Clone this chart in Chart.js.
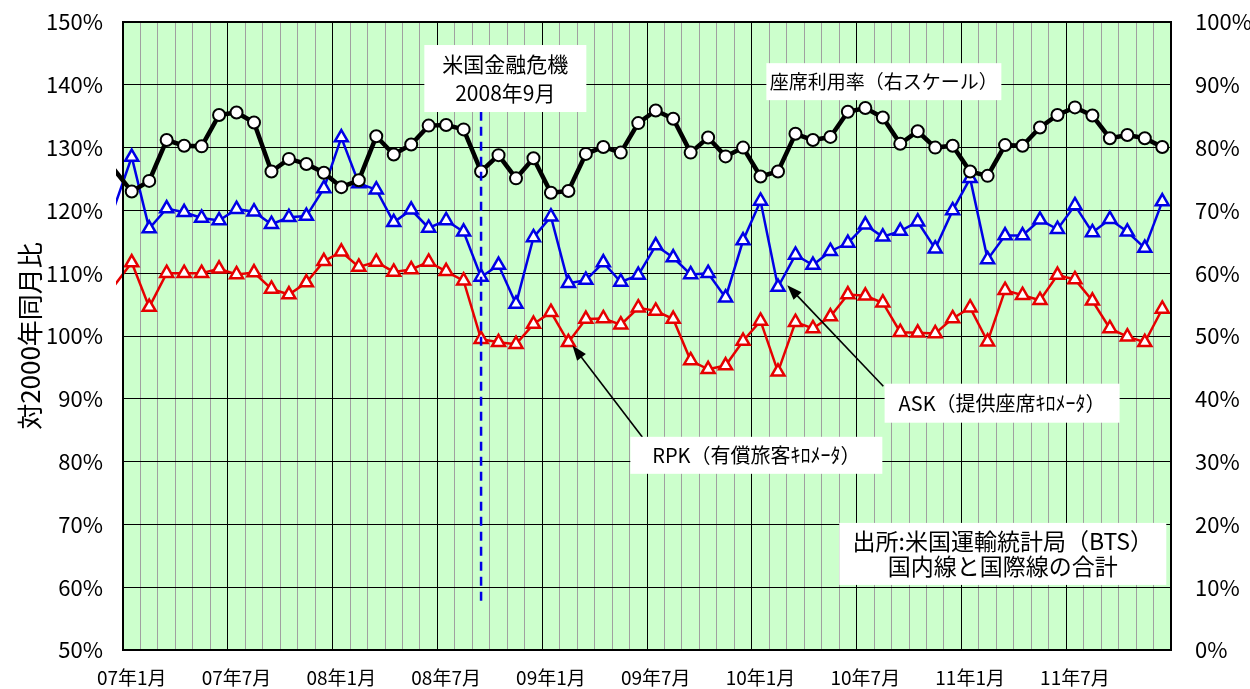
<!DOCTYPE html>
<html lang="ja">
<head>
<meta charset="utf-8">
<title>米国航空 ASK・RPK・座席利用率</title>
<script src="https://cdn.jsdelivr.net/npm/chart.js@4.4.1/dist/chart.umd.min.js"></script>
<style>
  html, body { margin: 0; padding: 0; background: #fff; }
</style>
</head>
<body>
<canvas id="canvasLine" width="1250" height="689"></canvas>
<script>
// データ (06年12月はプロット左端の外側、線の入りだけ見える)
// =================================
const months = [
  '06年12月',
  '07年1月', '07年2月', '07年3月', '07年4月', '07年5月', '07年6月', '07年7月', '07年8月', '07年9月', '07年10月', '07年11月', '07年12月',
  '08年1月', '08年2月', '08年3月', '08年4月', '08年5月', '08年6月', '08年7月', '08年8月', '08年9月', '08年10月', '08年11月', '08年12月',
  '09年1月', '09年2月', '09年3月', '09年4月', '09年5月', '09年6月', '09年7月', '09年8月', '09年9月', '09年10月', '09年11月', '09年12月',
  '10年1月', '10年2月', '10年3月', '10年4月', '10年5月', '10年6月', '10年7月', '10年8月', '10年9月', '10年10月', '10年11月', '10年12月',
  '11年1月', '11年2月', '11年3月', '11年4月', '11年5月', '11年6月', '11年7月', '11年8月', '11年9月', '11年10月', '11年11月', '11年12月'
];

const tickLabels = ['07年1月', '07年7月', '08年1月', '08年7月', '09年1月', '09年7月', '10年1月', '10年7月', '11年1月', '11年7月'];

// 座席利用率 (右スケール, %)
const loadFactor = [
  76.5,
  73.0, 74.7, 81.2, 80.3, 80.2, 85.2, 85.6, 84.0, 76.2, 78.2, 77.4, 76.0,
  73.7, 74.8, 81.8, 78.9, 80.5, 83.5, 83.6, 82.9, 76.2, 78.8, 75.1, 78.3,
  72.8, 73.1, 79.0, 80.1, 79.2, 83.9, 85.9, 84.6, 79.2, 81.6, 78.6, 80.0,
  75.4, 76.2, 82.2, 81.2, 81.7, 85.7, 86.3, 84.8, 80.6, 82.6, 80.0, 80.3,
  76.2, 75.5, 80.4, 80.3, 83.2, 85.2, 86.4, 85.1, 81.5, 82.0, 81.5, 80.1
];

// ASK 提供座席キロメータ (対2000年同月比, %)
const ask = [
  120.5,
  128.5, 117.1, 120.3, 119.7, 118.8, 118.4, 120.2, 119.8, 117.8, 118.9, 119.1, 123.5,
  131.6, 124.3, 123.3, 118.1, 120.1, 117.2, 118.4, 116.6, 109.4, 111.3, 105.1, 115.7,
  119.0, 108.4, 108.9, 111.7, 108.6, 109.7, 114.4, 112.5, 109.8, 110.0, 106.1, 115.2,
  121.5, 107.8, 112.9, 111.3, 113.5, 114.8, 117.7, 115.8, 116.7, 118.2, 113.9, 120.0,
  125.1, 112.2, 116.0, 116.0, 118.5, 117.0, 120.8, 116.5, 118.6, 116.6, 114.0, 121.4
];

// RPK 有償旅客キロメータ (対2000年同月比, %)
const rpk = [
  108.0,
  111.7, 104.6, 110.0, 110.0, 110.0, 110.7, 109.8, 110.1, 107.5, 106.6, 108.5, 111.9,
  113.4, 111.0, 111.8, 110.2, 110.6, 111.8, 110.3, 108.8, 99.5, 99.0, 98.7, 101.9,
  103.8, 99.0, 102.7, 102.8, 101.8, 104.5, 104.0, 102.7, 96.1, 94.7, 95.3, 99.2,
  102.4, 94.3, 102.2, 101.2, 103.1, 106.6, 106.4, 105.3, 100.6, 100.5, 100.4, 102.8,
  104.5, 99.1, 107.3, 106.5, 105.7, 109.7, 109.0, 105.6, 101.2, 99.9, 99.0, 104.3
];

const crisisMonth = '08年9月';

// Chart.js setting
// =================================
const JP = '"Noto Sans CJK JP", sans-serif';

Chart.defaults.font.family = JP;
Chart.defaults.color = '#000';

const toXY = arr => arr.map((v, i) => ({ x: i, y: v }));
const xMin = 0.5;
const xMax = months.length - 0.5;

// 注記 (位置は x=月番号, y=左軸%)
const notes = [
  { x: 22.39, y: 141.0, w: 162, h: 67, size: 21, gap: 29, lines: ['米国金融危機', '2008年9月'] },
  { x: 44.06, y: 140.5, w: 235, h: 37, size: 19, gap: 0, lines: ['座席利用率（右スケール）'] },
  { x: 50.83, y: 89.3, w: 235, h: 39, size: 20, gap: 0, lines: ['ASK（提供座席ｷﾛﾒｰﾀ）'] },
  { x: 36.76, y: 81.0, w: 252, h: 37, size: 20, gap: 0, lines: ['RPK（有償旅客ｷﾛﾒｰﾀ）'] },
  { x: 50.87, y: 65.3, w: 327, h: 62, size: 23, gap: 25, lines: ['出所:米国運輸統計局（BTS）', '国内線と国際線の合計'] }
];
const arrows = [
  { from: [44.03, 92.0], to: [38.53, 108.1] },
  { from: [30.23, 83.9], to: [26.23, 98.5] }
];

const plotBackground = {
  id: 'plotBackground',
  beforeDraw(chart) {
    const { ctx, chartArea: a } = chart;
    ctx.save();
    ctx.fillStyle = '#ccffcc';
    ctx.fillRect(a.left, a.top, a.width, a.height);
    ctx.restore();
  }
};

function drawArrow(ctx, x1, y1, x2, y2) {
  const ang = Math.atan2(y2 - y1, x2 - x1);
  const L = 15, W = 5.5;
  const c = Math.cos(ang), s = Math.sin(ang);
  ctx.beginPath();
  ctx.moveTo(x1, y1);
  ctx.lineTo(x2 - c * L * 0.8, y2 - s * L * 0.8);
  ctx.stroke();
  ctx.beginPath();
  ctx.moveTo(x2, y2);
  ctx.lineTo(x2 - c * L - s * W, y2 - s * L + c * W);
  ctx.lineTo(x2 - c * L + s * W, y2 - s * L - c * W);
  ctx.closePath();
  ctx.fill();
}

const annotations = {
  id: 'annotations',
  afterDatasetsDraw(chart) {
    const { ctx, chartArea: a } = chart;
    const xs = chart.scales.x, ys = chart.scales.y;
    ctx.save();

    // 金融危機の破線
    const cx = xs.getPixelForValue(months.indexOf(crisisMonth));
    ctx.strokeStyle = '#0000e6';
    ctx.lineWidth = 2.5;
    ctx.setLineDash([9, 6]);
    ctx.beginPath();
    ctx.moveTo(cx, ys.getPixelForValue(135.7));
    ctx.lineTo(cx, ys.getPixelForValue(57.5));
    ctx.stroke();
    ctx.setLineDash([]);

    // 矢印
    ctx.strokeStyle = '#000';
    ctx.fillStyle = '#000';
    ctx.lineWidth = 1.6;
    arrows.forEach(ar => {
      drawArrow(ctx,
        xs.getPixelForValue(ar.from[0]), ys.getPixelForValue(ar.from[1]),
        xs.getPixelForValue(ar.to[0]), ys.getPixelForValue(ar.to[1]));
    });

    // テキストボックス
    notes.forEach(n => {
      const px = xs.getPixelForValue(n.x), py = ys.getPixelForValue(n.y);
      ctx.fillStyle = '#fff';
      ctx.fillRect(px - n.w / 2, py - n.h / 2, n.w, n.h);
      ctx.fillStyle = '#000';
      ctx.font = n.size + 'px ' + JP;
      ctx.textAlign = 'center';
      ctx.textBaseline = 'middle';
      const top = py - (n.lines.length - 1) * n.gap / 2;
      n.lines.forEach((t, k) => ctx.fillText(t, px, top + k * n.gap));
    });

    // 枠線
    ctx.strokeStyle = '#000';
    ctx.lineWidth = 2;
    ctx.strokeRect(a.left, a.top, a.width, a.height);
    ctx.restore();
  },
  afterDraw(chart) {
    const { ctx, chartArea: a } = chart;
    ctx.save();
    ctx.translate(30, (a.top + a.bottom) / 2);
    ctx.rotate(-Math.PI / 2);
    ctx.font = '26px ' + JP;
    ctx.fillStyle = '#000';
    ctx.textAlign = 'center';
    ctx.textBaseline = 'middle';
    ctx.fillText('対2000年同月比', 0, 0);
    ctx.restore();
  }
};

const hideFirst = r => ctx => (ctx.dataIndex === 0 ? 0 : r);
const noPad = s => { s.paddingTop = 0; s.paddingBottom = 0; s.paddingLeft = 0; s.paddingRight = 0; };

const ctx = document.getElementById('canvasLine').getContext('2d');
const lineChart = new Chart(ctx, {
  type: 'line',
  data: {
    datasets: [{
      label: '座席利用率',
      data: toXY(loadFactor),
      yAxisID: 'y2',
      borderColor: '#000',
      borderWidth: 4.5,
      pointStyle: 'circle',
      pointRadius: hideFirst(6),
      pointBackgroundColor: '#fff',
      pointBorderColor: '#000',
      pointBorderWidth: 2,
      clip: { left: 7, top: 0, right: 0, bottom: 0 }
    }, {
      label: 'ASK',
      data: toXY(ask),
      yAxisID: 'y',
      borderColor: '#0000e6',
      borderWidth: 2.5,
      pointStyle: 'triangle',
      pointRadius: hideFirst(7.5),
      pointBackgroundColor: '#fff',
      pointBorderColor: '#0000e6',
      pointBorderWidth: 2.5,
      clip: { left: 7, top: 0, right: 0, bottom: 0 }
    }, {
      label: 'RPK',
      data: toXY(rpk),
      yAxisID: 'y',
      borderColor: '#e60000',
      borderWidth: 2.5,
      pointStyle: 'triangle',
      pointRadius: hideFirst(7.5),
      pointBackgroundColor: '#fff',
      pointBorderColor: '#e60000',
      pointBorderWidth: 2.5,
      clip: { left: 7, top: 0, right: 0, bottom: 0 }
    }]
  },
  options: {
    responsive: false,
    animation: false,
    layout: { padding: { top: 22, left: 0, right: 0, bottom: 0 } },
    plugins: { legend: { display: false }, tooltip: { enabled: false } },
    scales: {
      x: {
        type: 'linear', position: 'bottom', bounds: 'data',
        min: xMin, max: xMax,
        afterBuildTicks: axis => { axis.ticks = tickLabels.map(l => ({ value: months.indexOf(l) })); },
        afterFit: s => { s.height = 39; noPad(s); },
        grid: { display: false },
        border: { display: false },
        ticks: {
          autoSkip: false, maxRotation: 0, minRotation: 0, padding: 8,
          font: { size: 19 },
          callback: v => months[v]
        }
      },
      xg: {
        type: 'linear', position: 'bottom', bounds: 'data',
        min: xMin, max: xMax,
        afterBuildTicks: axis => { axis.ticks = months.map((m, i) => ({ value: i + 0.5 })); },
        afterFit: s => { s.height = 0; noPad(s); },
        border: { display: false },
        ticks: { display: false },
        grid: {
          drawTicks: false,
          lineWidth: 1,
          color: c => (tickLabels.includes(months[c.tick.value + 0.5]) ? '#000' : '#a0a0a0')
        }
      },
      y: {
        position: 'left', min: 50, max: 150,
        afterFit: s => { s.width = 123; noPad(s); },
        border: { display: false },
        grid: { color: '#000', lineWidth: 1, drawTicks: false },
        ticks: { stepSize: 10, padding: 20, font: { size: 22 }, callback: v => v + '%' }
      },
      y2: {
        position: 'right', min: 0, max: 100,
        afterFit: s => { s.width = 79; noPad(s); },
        border: { display: false },
        grid: { drawOnChartArea: false, drawTicks: false },
        ticks: { stepSize: 10, padding: 24, font: { size: 22 }, callback: v => v + '%' }
      }
    }
  },
  plugins: [plotBackground, annotations]
});
</script>
</body>
</html>
